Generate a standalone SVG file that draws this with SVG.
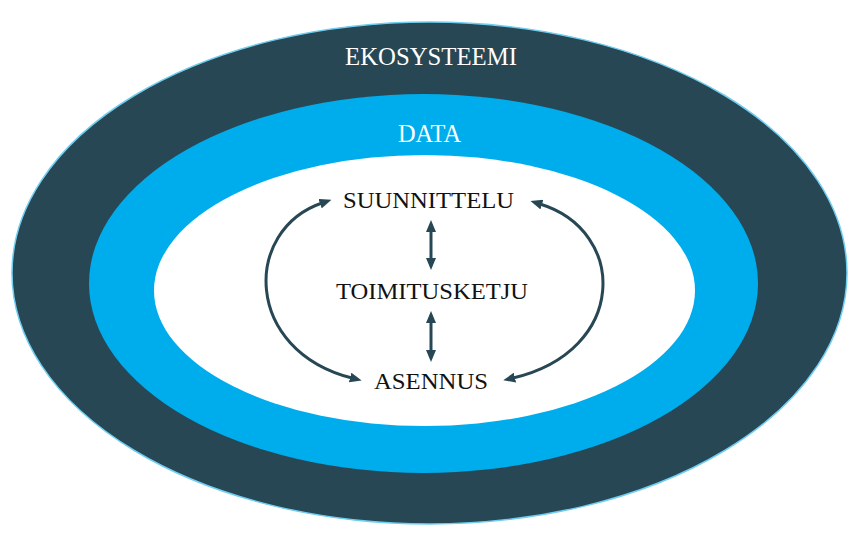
<svg xmlns="http://www.w3.org/2000/svg" width="858" height="551" viewBox="0 0 858 551">
<style>
.lbl{font-family:"Liberation Serif","DejaVu Serif",serif;font-size:24px;text-anchor:middle}
.big{font-size:26px}
.w{fill:#ffffff}
.k{fill:#111111}
.con{fill:none;stroke:#284754;stroke-width:3}
</style>
<defs>
<marker id="ah" viewBox="0 0 12 10" markerUnits="userSpaceOnUse" markerWidth="12" markerHeight="10" refX="2" refY="5" orient="auto-start-reverse">
<path d="M0,0 L12,5 L0,10 z" fill="#284754"/>
</marker>
</defs>
<rect width="858" height="551" fill="#ffffff"/>
<g id="ekosysteemi">
<ellipse cx="429.5" cy="273" rx="417.5" ry="251" fill="#284754" stroke="#6fcdf0" stroke-width="1.5"/>
<text class="lbl big w" x="431" y="64.5" textLength="172" lengthAdjust="spacingAndGlyphs">EKOSYSTEEMI</text>
</g>
<g id="data">
<ellipse cx="423.5" cy="283.5" rx="334.5" ry="189.5" fill="#00adec"/>
<text class="lbl big w" x="429.5" y="141.5" textLength="63" lengthAdjust="spacingAndGlyphs">DATA</text>
</g>
<g id="inner">
<ellipse cx="424.5" cy="290.5" rx="270.5" ry="135.5" fill="#ffffff"/>
</g>
<g id="suunnittelu"><text class="lbl k" x="428.5" y="208" textLength="171" lengthAdjust="spacingAndGlyphs">SUUNNITTELU</text></g>
<g id="toimitusketju"><text class="lbl k" x="432" y="299" textLength="192" lengthAdjust="spacingAndGlyphs">TOIMITUSKETJU</text></g>
<g id="asennus"><text class="lbl k" x="431" y="389" textLength="114" lengthAdjust="spacingAndGlyphs">ASENNUS</text></g>
<g id="connectors">
<path class="con" d="M322,203 C243,230 243,350 352,378" marker-start="url(#ah)" marker-end="url(#ah)"/>
<path class="con" d="M540,204 C628,231 628,351 513,378" marker-start="url(#ah)" marker-end="url(#ah)"/>
<line class="con" x1="431" y1="230" x2="431" y2="260" marker-start="url(#ah)" marker-end="url(#ah)"/>
<line class="con" x1="431" y1="321" x2="431" y2="352" marker-start="url(#ah)" marker-end="url(#ah)"/>
</g>
</svg>
